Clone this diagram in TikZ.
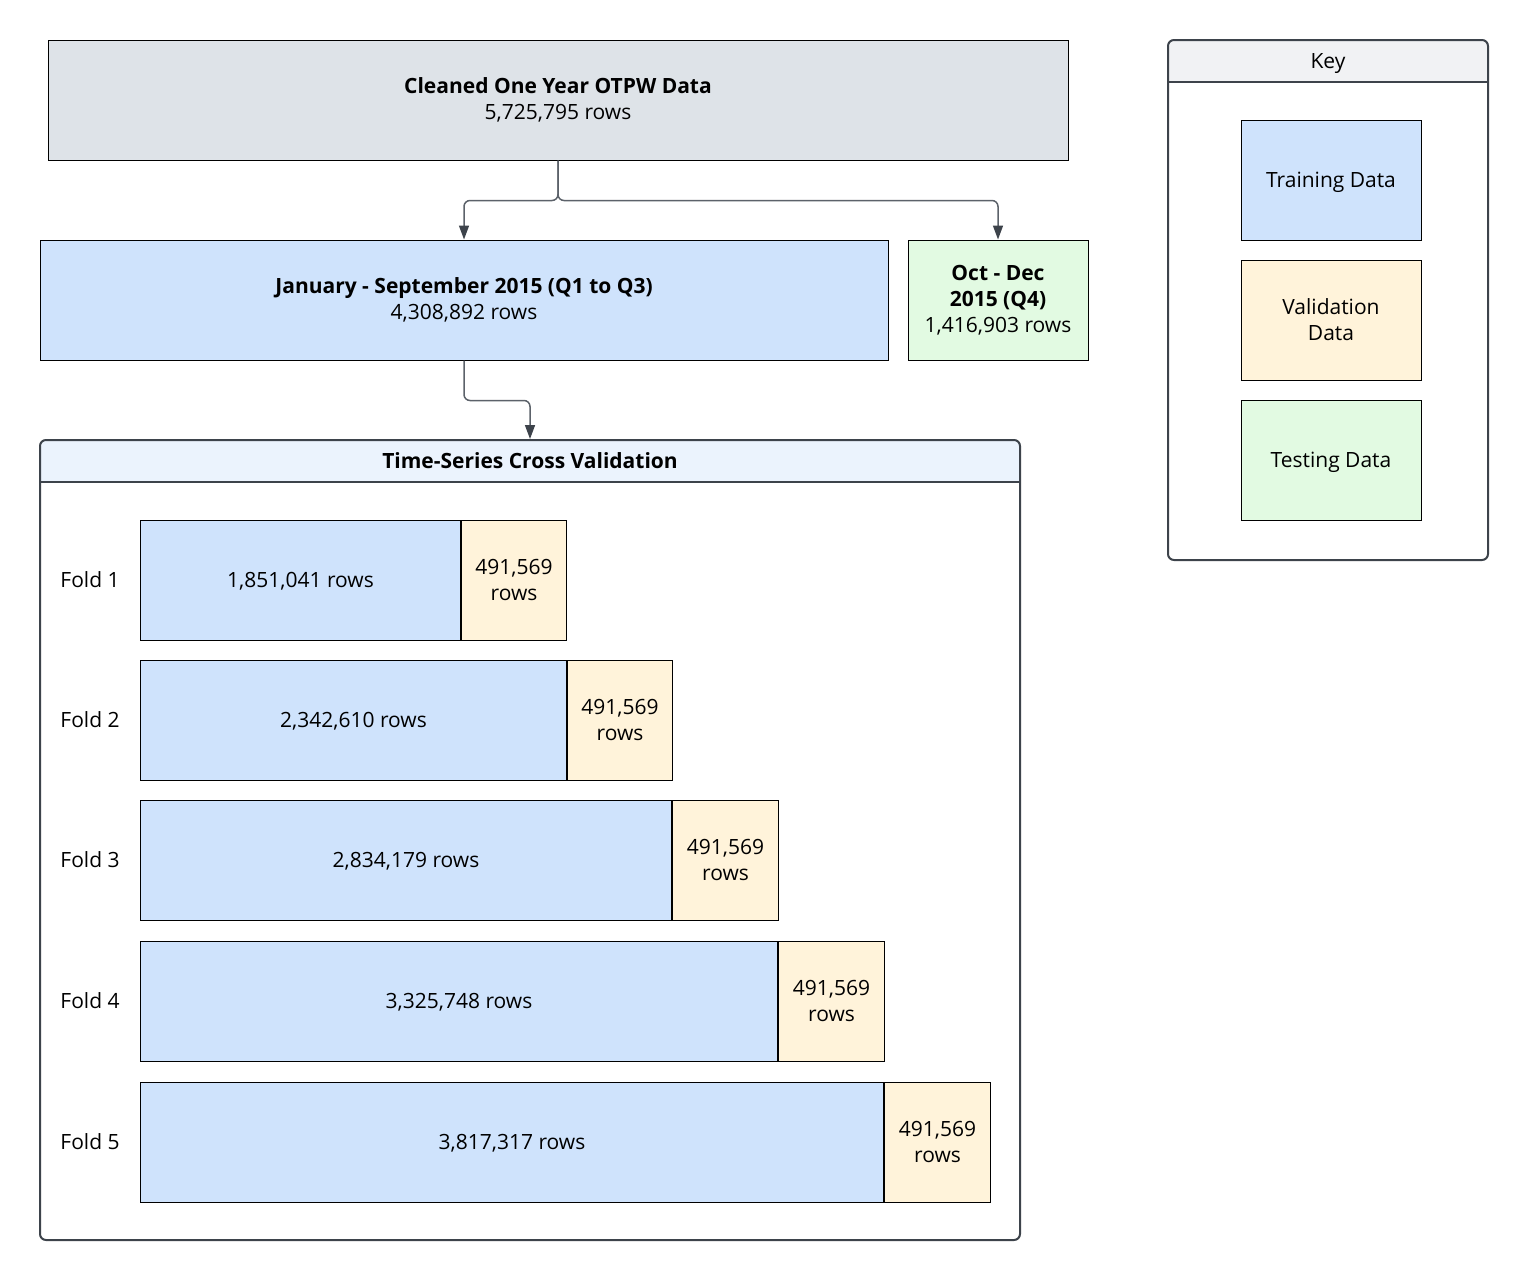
\documentclass[tikz,border=0pt]{standalone}
\usepackage{fontspec}
\setmainfont{Open Sans}
\usetikzlibrary{arrows.meta}
\definecolor{topgray}{HTML}{DEE3E8}
\definecolor{trainblue}{HTML}{CFE3FC}
\definecolor{valyellow}{HTML}{FFF3DA}
\definecolor{testgreen}{HTML}{E2FAE2}
\definecolor{cvhead}{HTML}{EBF3FD}
\definecolor{keyhead}{HTML}{F1F2F4}
\definecolor{framegray}{HTML}{3D434B}
\definecolor{linegray}{HTML}{5C626A}
\tikzstyle{every node}=[font=\fontsize{21}{26}\selectfont, align=center, inner sep=0pt]
\tikzstyle{box}=[draw=black, line width=1pt]
\tikzstyle{oneline}=[text depth=0pt]
\tikzstyle{frame}=[draw=framegray, line width=2pt, rounded corners=6pt]
\tikzstyle{conn}=[draw=linegray, line width=1.5pt, rounded corners=6pt, -{Triangle[length=14pt, width=10pt, color=framegray]}]

\begin{document}
\begin{tikzpicture}[x=1pt, y=-1pt]
\useasboundingbox (0,0) rectangle (1528,1280);
% Source data
    \node[box, fill=topgray, minimum width=1020pt, minimum height=120pt] (top) at (558,100) {{\bfseries Cleaned One Year OTPW Data}\\5,725,795 rows};
% Split by quarter
    \node[box, fill=trainblue, minimum width=848pt, minimum height=120pt] (trainval) at (464,300) {{\bfseries January - September 2015 (Q1 to Q3)}\\4,308,892 rows};
    \node[box, fill=testgreen, minimum width=180pt, minimum height=120pt] (test) at (998,300) {{\bfseries Oct - Dec}\\{\bfseries 2015 (Q4)}\\1,416,903 rows};
% Cross validation panel
    \begin{scope}
    \clip[rounded corners=6pt] (40,440) rectangle (1020,1240);
    \fill[cvhead] (40,440) rectangle (1020,482);
    \end{scope}
    \draw[framegray, line width=2pt] (40,482) -- (1020,482);
    \node[frame, minimum width=980pt, minimum height=800pt] (cv) at (530,840) {};
    \node (cvtitle) at (530,461) {\bfseries Time-Series Cross Validation};
% Folds
    \node (fold1) at (90,580) {Fold 1};
    \node[box, oneline, fill=trainblue, minimum width=320pt, minimum height=120pt, anchor=west] (fold1train) at (140,580) {1,851,041 rows};
    \node[box, fill=valyellow, minimum width=105pt, minimum height=120pt, anchor=west] (fold1val) at (fold1train.east) {491,569\\rows};
    \node (fold2) at (90,720) {Fold 2};
    \node[box, oneline, fill=trainblue, minimum width=426pt, minimum height=120pt, anchor=west] (fold2train) at (140,720) {2,342,610 rows};
    \node[box, fill=valyellow, minimum width=105pt, minimum height=120pt, anchor=west] (fold2val) at (fold2train.east) {491,569\\rows};
    \node (fold3) at (90,860) {Fold 3};
    \node[box, oneline, fill=trainblue, minimum width=531pt, minimum height=120pt, anchor=west] (fold3train) at (140,860) {2,834,179 rows};
    \node[box, fill=valyellow, minimum width=106pt, minimum height=120pt, anchor=west] (fold3val) at (fold3train.east) {491,569\\rows};
    \node (fold4) at (90,1001) {Fold 4};
    \node[box, oneline, fill=trainblue, minimum width=637pt, minimum height=120pt, anchor=west] (fold4train) at (140,1001) {3,325,748 rows};
    \node[box, fill=valyellow, minimum width=106pt, minimum height=120pt, anchor=west] (fold4val) at (fold4train.east) {491,569\\rows};
    \node (fold5) at (90,1142) {Fold 5};
    \node[box, oneline, fill=trainblue, minimum width=743pt, minimum height=120pt, anchor=west] (fold5train) at (140,1142) {3,817,317 rows};
    \node[box, fill=valyellow, minimum width=106pt, minimum height=120pt, anchor=west] (fold5val) at (fold5train.east) {491,569\\rows};
% Key
    \begin{scope}
    \clip[rounded corners=6pt] (1168,40) rectangle (1488,560);
    \fill[keyhead] (1168,40) rectangle (1488,82);
    \end{scope}
    \draw[framegray, line width=2pt] (1168,82) -- (1488,82);
    \node[frame, minimum width=320pt, minimum height=520pt] (key) at (1328,300) {};
    \node[oneline] (keytitle) at (1328,61) {Key};
    \node[box, oneline, fill=trainblue, minimum width=180pt, minimum height=120pt] (keytrain) at (1331,180) {Training Data};
    \node[box, fill=valyellow, minimum width=180pt, minimum height=120pt] (keyval) at (1331,320) {Validation\\Data};
    \node[box, oneline, fill=testgreen, minimum width=180pt, minimum height=120pt] (keytest) at (1331,460) {Testing Data};
% Connectors
    \draw[conn] (top.south) -- ++(0,40) -| (trainval.north);
    \draw[conn] (top.south) -- ++(0,40) -| (test.north);
    \draw[conn] (trainval.south) -- ++(0,40) -| (cv.north);
\end{tikzpicture}
\end{document}
